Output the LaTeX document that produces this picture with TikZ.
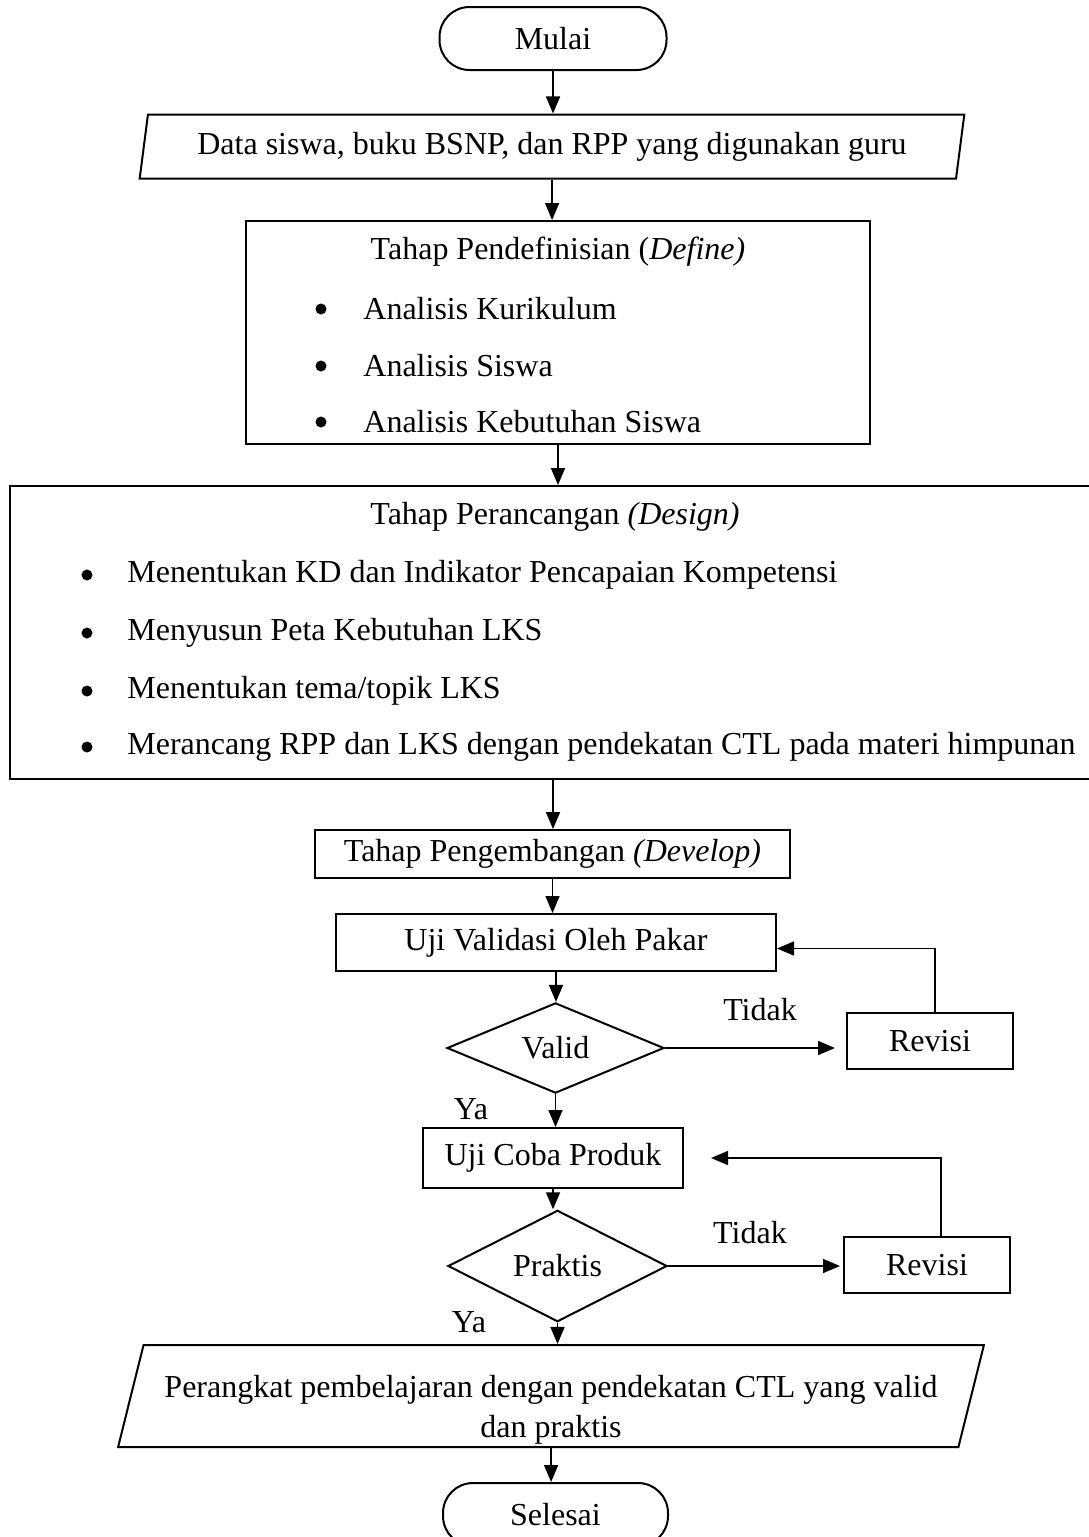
\documentclass[tikz,border=0pt]{standalone}
\usepackage{fontspec}
\setmainfont{Liberation Serif}
\usepackage{tikz}
\usetikzlibrary{arrows.meta,shapes.geometric}

\tikzset{
	teks/.style={inner sep=0pt, font=\fontsize{16}{20}\selectfont},
	titik/.style={circle, fill=black, inner sep=0pt, minimum size=5.5pt},
	proses/.style={teks, draw, line width=1pt, rectangle},
	terminal/.style={proses, rounded corners=15pt, minimum width=113.5pt, minimum height=31.5pt},
	inout/.style={teks, draw, line width=1pt, trapezium, trapezium left angle=76, trapezium right angle=104, trapezium stretches=true, align=center},
	putusan/.style={teks, draw, line width=1pt, diamond},
	panah/.style={line width=0.8pt, -{Triangle[length=8.5pt,width=7pt]}}
}

\begin{document}
\begin{tikzpicture}[x=0.5pt, y=-0.5pt]
			%%%%% START %%%%%
			\useasboundingbox (0,0) rectangle (1088,1537);
			
			\node[terminal] (mulai) at (553,38.5) {Mulai};
			\node[inout, minimum width=412.5pt, minimum height=32pt] (dataAwal) at (552,146.5) {Data siswa, buku BSNP, dan RPP yang digunakan guru};
			
			% tahap define
			\node[proses, minimum width=312pt, minimum height=111.5pt] (define) at (558,332.5) {};
			\node[teks] (judulDefine) at (558,252) {Tahap Pendefinisian (\textit{Define)}};
			\node[titik] (titikA) at (321,309) {};
			\node[titik] (titikB) at (321,366) {};
			\node[titik] (titikC) at (321,422) {};
			\node[teks, anchor=west] (kurikulum) at (363,309) {Analisis Kurikulum};
			\node[teks, anchor=west] (siswa) at (363,366) {Analisis Siswa};
			\node[teks, anchor=west] (kebutuhan) at (363,422) {Analisis Kebutuhan Siswa};
			
			% tahap design
			\node[proses, minimum width=543pt, minimum height=146.5pt] (design) at (553,632.5) {};
			\node[teks] (judulDesign) at (555,517) {Tahap Perancangan \textit{(Design)}};
			\node[titik] (titikD) at (87,575) {};
			\node[titik] (titikE) at (87,633) {};
			\node[titik] (titikF) at (87,691) {};
			\node[titik] (titikG) at (87,747) {};
			\node[teks, anchor=west] (kd) at (127,575) {Menentukan KD dan Indikator Pencapaian Kompetensi};
			\node[teks, anchor=west] (peta) at (127,633) {Menyusun Peta Kebutuhan LKS};
			\node[teks, anchor=west] (tema) at (127,691) {Menentukan tema/topik LKS};
			\node[teks, anchor=west] (rancang) at (127,747) {Merancang RPP dan LKS dengan pendekatan CTL pada materi himpunan};
			
			% tahap develop
			\node[proses, minimum width=237.5pt, minimum height=24pt] (develop) at (552.5,854) {Tahap Pengembangan \textit{(Develop)}};
			\node[proses, minimum width=220pt, minimum height=28.5pt] (ujiValidasi) at (556,942.5) {Uji Validasi Oleh Pakar};
			\node[putusan, minimum width=108.5pt, minimum height=43pt] (valid) at (555.5,1048) {Valid};
			\node[proses, minimum width=83pt, minimum height=28pt] (revisiA) at (930,1041) {Revisi};
			\node[teks] (tidakA) at (760,1010) {Tidak};
			\node[teks] (yaA) at (471,1109) {Ya};
			
			\node[proses, minimum width=130pt, minimum height=30pt] (ujiCoba) at (553,1158) {Uji Coba Produk};
			\node[putusan, minimum width=109.5pt, minimum height=43pt] (praktis) at (557.5,1266) {Praktis};
			\node[proses, minimum width=83pt, minimum height=28pt] (revisiB) at (927,1265) {Revisi};
			\node[teks] (tidakB) at (750,1233) {Tidak};
			\node[teks] (yaB) at (469,1322) {Ya};
			
			\node[inout, minimum width=434.5pt, minimum height=51pt] (dataAkhir) at (551,1396) {\rule{0pt}{25pt}Perangkat pembelajaran dengan pendekatan CTL yang valid\\dan praktis};
			\node[terminal, minimum width=112.5pt] (selesai) at (555.5,1514.5) {Selesai};
			
			% panah utama
			\draw[panah] (mulai.south) -- (mulai.south |- dataAwal.north);
			\draw[panah] (dataAwal.south) -- (dataAwal.south |- define.north);
			\draw[panah] (define.south) -- (define.south |- design.north);
			\draw[panah] (design.south) -- (design.south |- develop.north);
			\draw[panah] (develop.south) -- (develop.south |- ujiValidasi.north);
			\draw[panah] (ujiValidasi.south) -- (ujiValidasi.south |- valid.north);
			\draw[panah] (valid.south) -- (valid.south |- ujiCoba.north);
			\draw[panah] (ujiCoba.south) -- (ujiCoba.south |- praktis.north);
			\draw[panah] (praktis.south) -- (praktis.south |- dataAkhir.north);
			\draw[panah] (dataAkhir.south) -- (dataAkhir.south |- selesai.north);
			
			% revisi
			\draw[panah, shorten >=5.5pt] (valid.east) -- (valid.east -| revisiA.west);
			\draw[panah] ([xshift=2.5pt]revisiA.north) |- ([yshift=-3pt]ujiValidasi.east);
			\draw[panah, shorten >=1.5pt] (praktis.east) -- (praktis.east -| revisiB.west);
			\draw[panah, shorten >=13.5pt] ([xshift=7pt]revisiB.north) |- (ujiCoba.east);
			
			%%%%% END %%%%%
\end{tikzpicture}
\end{document}
